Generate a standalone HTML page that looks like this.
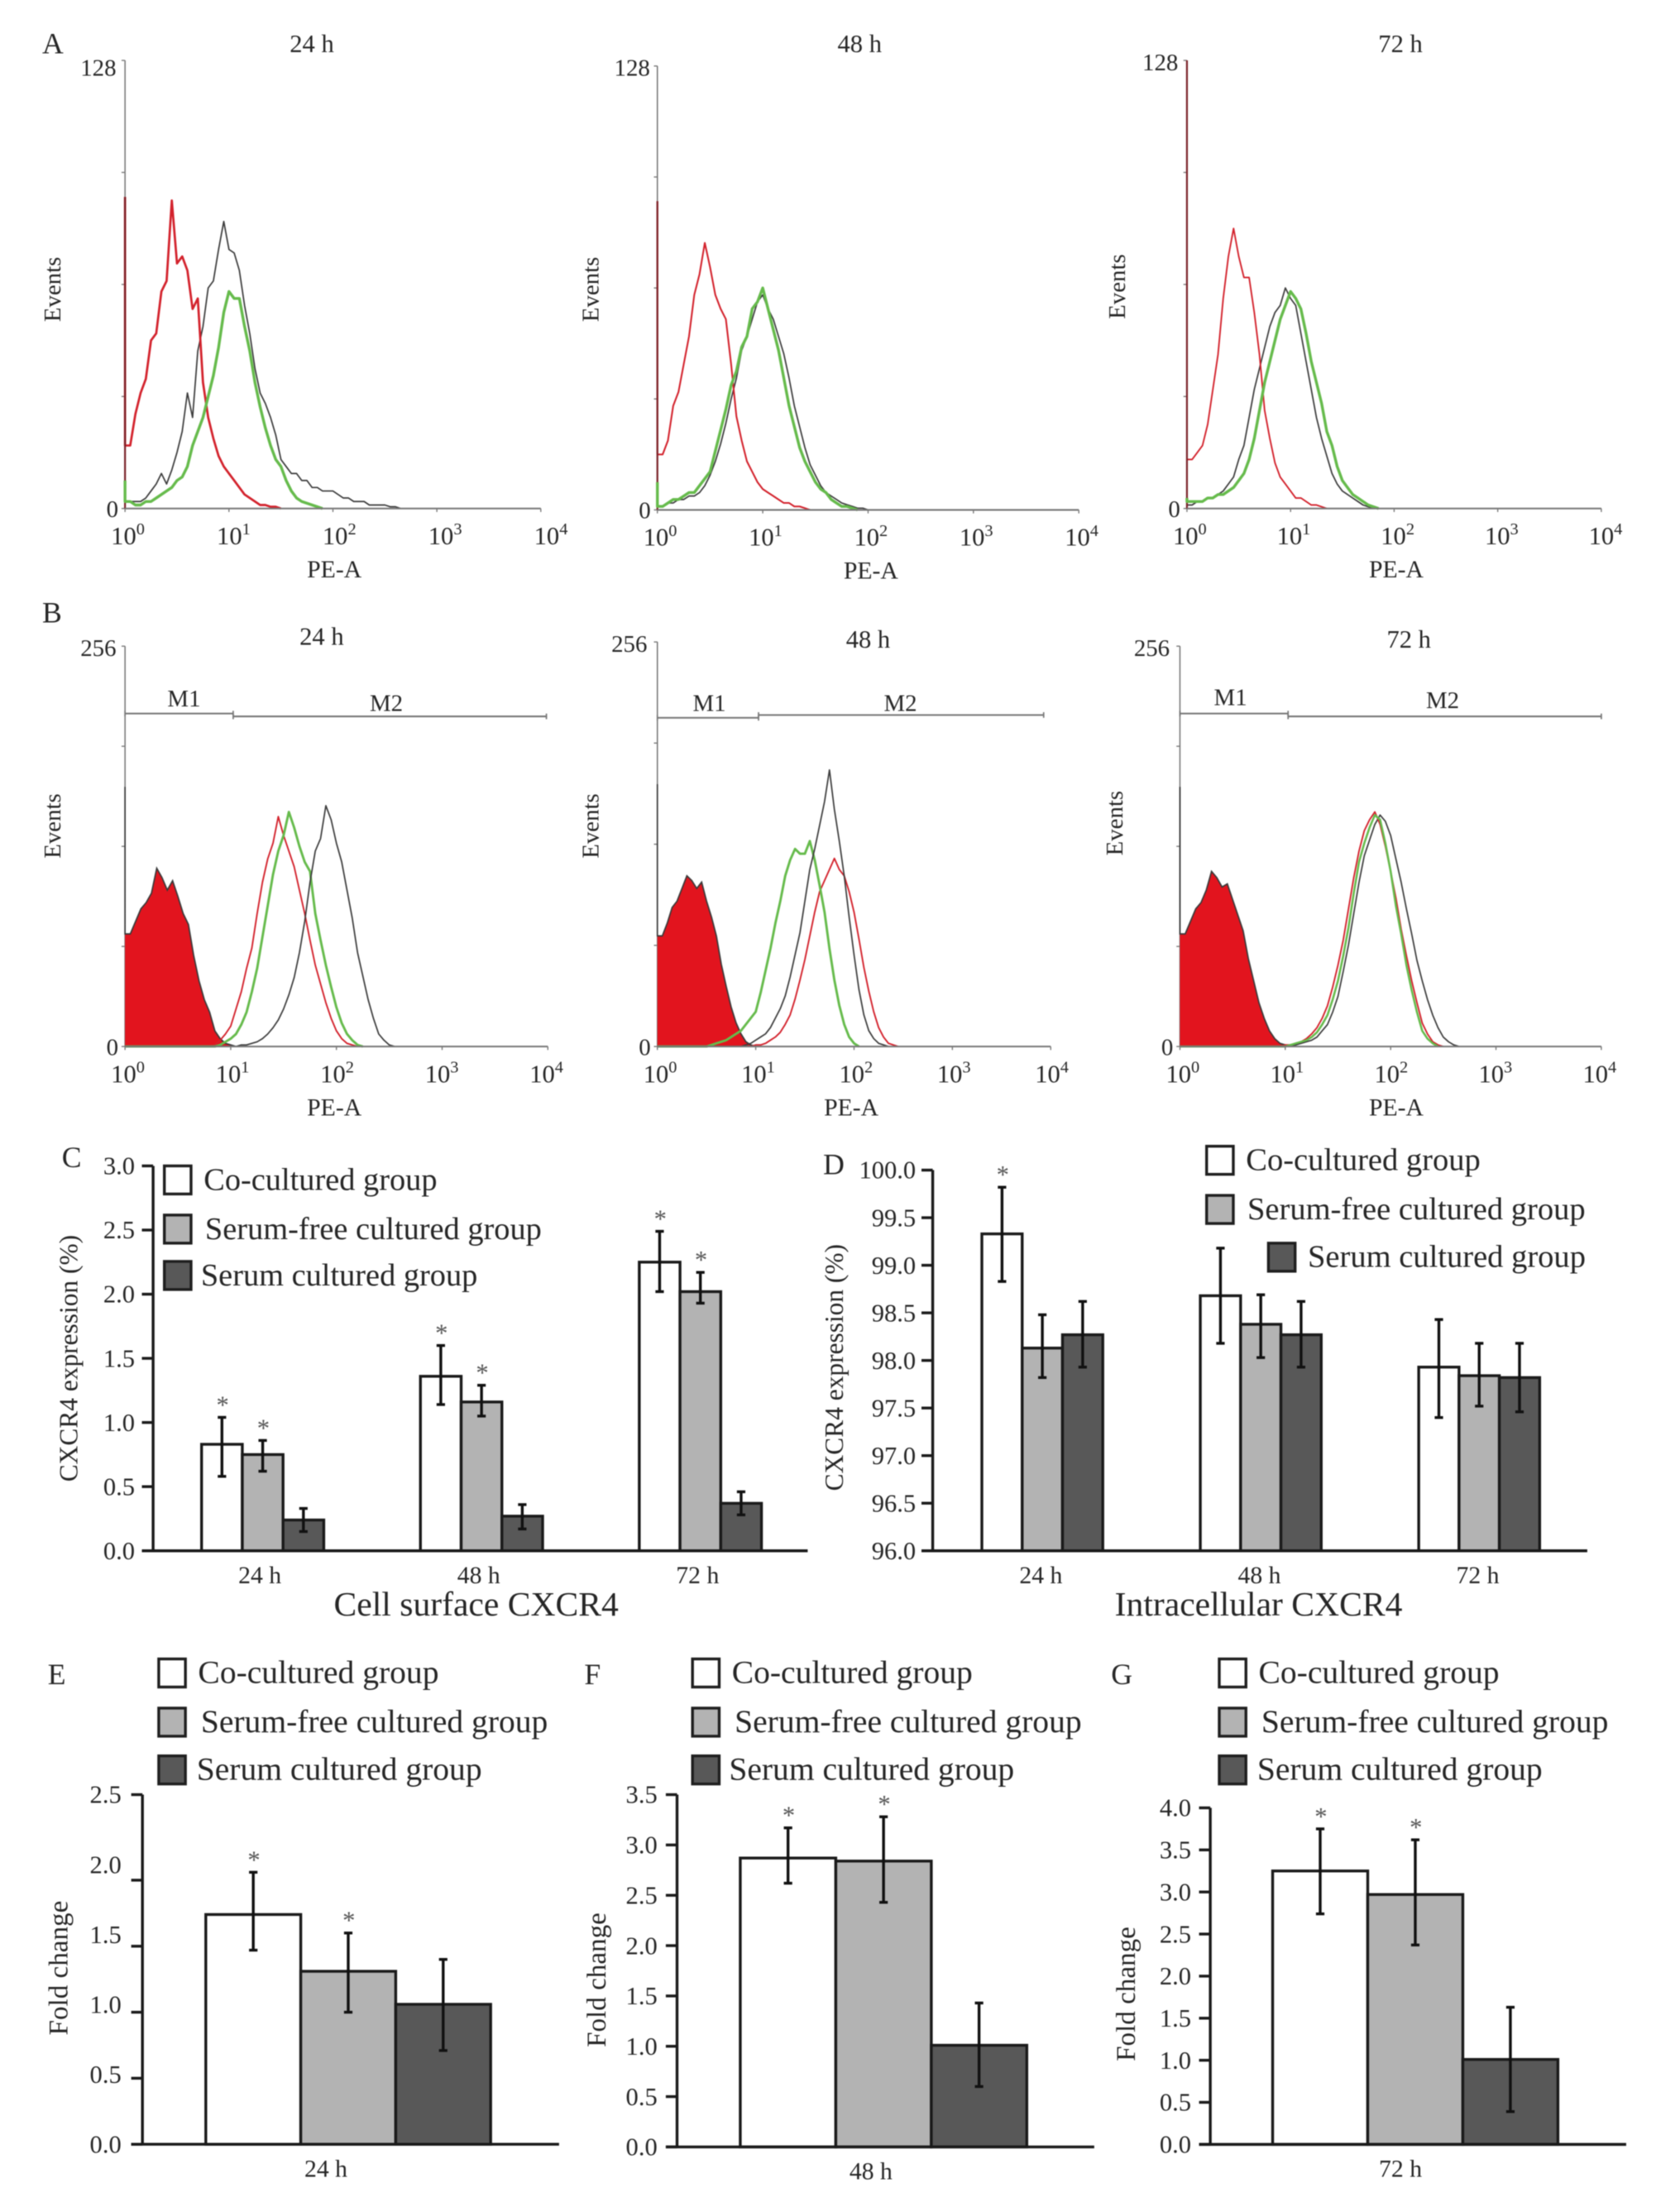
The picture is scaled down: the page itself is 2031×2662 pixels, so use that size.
<!DOCTYPE html>
<html lang="en">
<head>
<meta charset="utf-8">
<title>CXCR4 flow cytometry and expression panels</title>
<style>
html,body{margin:0;padding:0;background:#fff;}
body{width:2031px;height:2662px;overflow:hidden;}
svg{display:block;filter:blur(0.5px);}
text{font-family:"Liberation Serif","DejaVu Serif",serif;fill:#262626;}
</style>
</head>
<body>
<svg id="figure" xmlns="http://www.w3.org/2000/svg" width="2031" height="2662" viewBox="0 0 1196 1567.6"></svg>
<script>
/* ---------- histogram data: events per log-PE bin (first value = spike on the axis) ---------- */
const logBinStep = 0.05;
const decadeLabels = ['0', '1', '2', '3', '4'];

const a1Red = [89,18,27,33,37,48,50,62,65,88,70,72,68,57,60,36,26,20,15,12,10,8,6,4,3,2,1,1,0.5,0.5,0];
const a1Black = [1,2,2,2,3,5,7,10,7,11,16,22,33,26,45,52,63,65,74,82,74,73,68,58,50,40,33,30,26,21,14,12,10,10,8,8,6,6,5,5,5,4,3,3,2,2,2,1,1,1,1,0.5,0.5,0];
const a1Green = [8,2,1,1,2,2,3,4,5,6,8,9,12,18,22,26,32,38,46,56,62,60,60,52,45,36,29,23,18,14,12,8,5,3,2,1.5,1,0.5,0];

const a2Red = [89,16,20,30,34,42,50,62,68,77,70,62,58,55,42,27,20,14,11,8,6,5,4,3,2,2,1,1,0.5,0];
const a2Black = [3,1,2,2,3,3,4,4,5,7,10,14,19,25,32,38,46,50,55,60,62,58,55,50,45,38,30,24,18,13,10,7,5,4,3,2,1.5,1,0.5,0.5,0];
const a2Green = [8,1,2,3,3,4,5,5,7,9,11,17,23,29,36,40,47,50,58,60,64,58,52,46,38,30,24,18,14,11,8,6,5,3,2,1,1,0.5,0];

const a3Red = [128,14,16,18,24,34,44,60,72,80,72,66,66,56,44,28,20,13,9,7,5,3,3,2,1,1,0.5,0];
const a3Black = [3,1,2,2,3,3,4,5,7,9,14,18,26,34,40,46,52,56,58,63,60,58,50,42,34,26,20,15,10,7,5,4,3,2,1,0.5,0];
const a3Green = [3,2,2,2,3,3,4,4,5,6,8,10,14,20,28,36,42,48,54,58,62,60,57,50,42,36,30,22,18,12,8,6,4,3,2,1,0.5,0];

const b1Fill = [166,72,80,88,92,98,114,108,100,106,96,85,78,58,42,30,22,10,5,2,1,0];
const b1Red = [0,0,0,0,0,0,0,0,0,0,0,0,0,0,0,0,0,1,4,8,13,24,35,50,63,85,105,120,130,147,135,125,115,100,85,68,52,40,28,18,10,5,2,1,0];
const b1Green = [0,0,0,0,0,0,0,0,0,0,0,0,0,0,0,0,0,0,1,3,5,8,14,22,35,50,70,90,110,125,135,150,140,128,118,112,85,68,52,38,25,15,8,4,1,0];
const b1Black = [0,0,0,0,0,0,0,0,0,0,0,0,0,0,0,0,0,0,0,0,0,0,1,1,2,3,5,8,12,17,24,33,44,60,80,105,125,133,154,145,130,118,100,82,60,45,30,18,8,4,1,0];

const b2Fill = [166,70,78,88,92,100,108,105,100,104,92,82,70,52,38,25,15,8,3,1,0];
const b2Red = [0,0,0,0,0,0,0,0,0,0,0,0,0,0,0,0,0,0,0,0,1,1,2,4,6,9,14,20,30,42,55,70,85,98,105,112,119,112,108,98,85,68,50,35,22,12,6,2,1,0];
const b2Green = [0,0,0,0,0,0,0,0,0,0,0,1,2,3,4,6,8,10,14,18,22,34,48,62,78,92,108,118,125,122,122,130,118,102,85,62,42,26,14,6,2,0];
const b2Black = [0,0,0,0,0,0,0,0,0,0,0,0,0,0,0,0,0,0,1,2,4,6,8,12,18,24,32,44,58,72,92,112,125,140,155,175,150,130,108,82,58,36,20,10,5,2,1,0];

const b3Fill = [166,72,80,88,92,100,112,108,102,104,94,84,74,56,42,28,18,10,5,2,1,0];
const b3Red = [0,0,0,0,0,0,0,0,0,0,0,0,0,0,0,0,0,0,0,0,1,1,2,3,5,8,12,18,26,38,52,68,88,108,125,138,145,150,142,128,112,95,75,58,42,28,15,8,3,1,0];
const b3Green = [0,0,0,0,0,0,0,0,0,0,0,0,0,0,0,0,0,0,0,0,0,1,2,3,4,6,9,14,20,30,42,58,76,98,118,130,140,148,145,130,112,90,72,52,36,22,10,5,2,0];
const b3Black = [0,0,0,0,0,0,0,0,0,0,0,0,0,0,0,0,0,0,0,0,0,0,1,2,3,4,6,10,14,22,32,48,65,85,105,122,132,142,148,144,135,120,105,88,72,55,42,30,20,12,6,3,1,0];

/* ---------- bar chart data ---------- */
const timeCategories = ['24 h', '48 h', '72 h'];

const cTickLabels = ['0.0','0.5','1.0','1.5','2.0','2.5','3.0'];
const cCo = [0.83, 1.36, 2.25];
const cFree = [0.75, 1.16, 2.02];
const cSerum = [0.24, 0.27, 0.37];
const cCoHigh = [1.04, 1.60, 2.49];
const cCoLow = [0.58, 1.14, 2.02];
const cFreeHigh = [0.86, 1.29, 2.17];
const cFreeLow = [0.62, 1.05, 1.93];
const cSerumHigh = [0.33, 0.36, 0.46];
const cSerumLow = [0.15, 0.17, 0.28];

const dTickLabels = ['96.0','96.5','97.0','97.5','98.0','98.5','99.0','99.5','100.0'];
const dCo = [99.33, 98.68, 97.93];
const dFree = [98.13, 98.38, 97.84];
const dSerum = [98.27, 98.27, 97.82];
const dCoHigh = [99.82, 99.18, 98.43];
const dCoLow = [98.83, 98.18, 97.40];
const dFreeHigh = [98.48, 98.69, 98.18];
const dFreeLow = [97.82, 98.03, 97.52];
const dSerumHigh = [98.62, 98.62, 98.18];
const dSerumLow = [97.93, 97.93, 97.46];

const eTickLabels = ['0.0','0.5','1.0','1.5','2.0','2.5'];
const eValues = [1.74, 1.31, 1.06];
const eHigh = [2.06, 1.60, 1.40];
const eLow = [1.47, 1.00, 0.71];

const fTickLabels = ['0.0','0.5','1.0','1.5','2.0','2.5','3.0','3.5'];
const fValues = [2.87, 2.84, 1.01];
const fHigh = [3.17, 3.28, 1.43];
const fLow = [2.62, 2.43, 0.60];

const gTickLabels = ['0.0','0.5','1.0','1.5','2.0','2.5','3.0','3.5','4.0'];
const gValues = [3.25, 2.97, 1.01];
const gHigh = [3.75, 3.62, 1.63];
const gLow = [2.74, 2.37, 0.39];

const legendLabels = ['Co-cultured group', 'Serum-free cultured group', 'Serum cultured group'];

/* ---------- drawing helpers ---------- */
const SVGNS = 'http://www.w3.org/2000/svg';
const figure = document.getElementById('figure');
const seriesFill = ['#ffffff', '#b3b3b3', '#585858'];
const seriesKey = ['co-cultured', 'serum-free', 'serum'];

function add(tag, name, attrs, parent) {
  const el = document.createElementNS(SVGNS, tag);
  
  
  for (const k in attrs) el.setAttribute(k, attrs[k]);
  (parent || figure).appendChild(el);
  return el;
}
function label(name, str, x, y, size, anchor, parent, rotate) {
  const attrs = {x: x, y: y, 'font-size': size, 'text-anchor': anchor || 'middle'};
  if (rotate) attrs.transform = 'rotate(-90 ' + x + ' ' + y + ')';
  const t = add('text', name, attrs, parent);
  t.textContent = str;
  return t;
}

/* ---------- flow histograms ---------- */
function drawHistogram(p) {
  const g = add('g', 'histogram-' + p.id, {}, figure);
  const xScale = function (logValue) { return p.x0 + logValue * (p.x1 - p.x0) / 4; };
  const yScale = function (count) { return p.base - count * (p.base - p.top) / p.yMax; };
  const binX = function (i) { return xScale(i * logBinStep); };
  /* the first bin is a vertical spike standing on the y-axis */
  const tracePoints = function (values) {
    const pts = [binX(0) + ',' + yScale(values[0]), binX(0) + ',' + yScale(values[1])];
    values.forEach(function (v, i) {
      if (i > 0) pts.push(binX(i) + ',' + yScale(v));
    });
    return pts;
  };

  /* axes */
  add('line', 'y-axis', {x1: p.x0, x2: p.x0, y1: p.top, y2: p.base, stroke: '#777', 'stroke-width': 0.9}, g);
  [0, 0.25, 0.5, 0.75, 1].forEach(function (f) {
    const y = p.base - f * (p.base - p.top);
    add('line', 'y-tick', {x1: p.x0 - 2.5, x2: p.x0, y1: y, y2: y, stroke: '#777', 'stroke-width': 0.8}, g);
  });

  if (p.fill) {
    const pts = [binX(0) + ',' + yScale(0), binX(0) + ',' + yScale(p.fill[1])];
    p.fill.forEach(function (v, i) {
      if (i > 0) pts.push(binX(i) + ',' + yScale(v));
    });
    pts.push(binX(p.fill.length - 1) + ',' + yScale(0));
    add('polygon', 'filled-isotype-histogram', {points: pts.join(' '), fill: '#e2141e', stroke: 'none'}, g);
    add('polyline', 'isotype-outline', {points: tracePoints(p.fill).join(' '), fill: 'none', stroke: '#3a3a3a', 'stroke-width': 1}, g);
  }
  p.curves.forEach(function (c) {
    add('polyline', 'curve-' + c.name, {points: tracePoints(c.values).join(' '), fill: 'none', stroke: c.color, 'stroke-width': c.width, 'stroke-linejoin': 'round'}, g);
    if (c.spikeColor) {
      add('line', 'axis-spike-' + c.name, {x1: p.x0, x2: p.x0, y1: yScale(c.values[0]), y2: p.base, stroke: c.spikeColor, 'stroke-width': 1.3}, g);
    }
  });

  add('line', 'x-axis', {x1: p.x0, x2: p.x1, y1: p.base, y2: p.base, stroke: '#777', 'stroke-width': 1.2}, g);
  decadeLabels.forEach(function (d, i) {
    const x = xScale(Number(d));
    add('line', 'x-tick', {x1: x, x2: x, y1: p.base, y2: p.base + 2.5, stroke: '#777', 'stroke-width': 0.8}, g);
    const t = label('x-tick-label', '10', p.x0 + 2 + i * p.labelStep, p.base + 25.5, 18, 'middle', g);
    const s = add('tspan', 'x-tick-exponent', {dy: -7, 'font-size': 12}, t);
    s.textContent = d;
  });

  /* text */
  label('panel-time-title', p.title, p.titleX, p.titleY, 18, 'middle', g);
  label('y-max-label', String(p.yMax), p.maxX, p.maxY, 17, 'middle', g);
  label('y-zero-label', '0', p.x0 - 9, p.base + 6, 17, 'middle', g);
  label('y-axis-title', 'Events', p.evX, p.evY, 17, 'middle', g, true);
  label('x-axis-title', 'PE-A', p.peX, p.base + 49, 17.5, 'middle', g);

  if (p.gates) {
    p.gates.forEach(function (m) {
      add('line', 'gate-' + m.name, {x1: m.x1, x2: m.x2, y1: m.y, y2: m.y, stroke: '#777', 'stroke-width': 1.2}, g);
      add('line', 'gate-end', {x1: m.x1, x2: m.x1, y1: m.y - 2, y2: m.y + 2, stroke: '#777', 'stroke-width': 1}, g);
      add('line', 'gate-end', {x1: m.x2, x2: m.x2, y1: m.y - 2, y2: m.y + 2, stroke: '#777', 'stroke-width': 1}, g);
      label('gate-label-' + m.name, m.name, m.tx, m.ty, 17, 'middle', g);
    });
  }
}

const RED = '#d3222c', GREEN = '#66bb4c', BLACK = '#3c3c3c', DARKRED = '#7a2228';

drawHistogram({id: 'a-24h', x0: 89, x1: 385, top: 43, base: 362, yMax: 128, labelStep: 75.3, title: '24 h', titleX: 222, titleY: 37,
  maxX: 70, maxY: 54, evX: 43, evY: 206, peX: 238,
  curves: [{name: 'black', values: a1Black, color: BLACK, width: 1}, {name: 'red', values: a1Red, color: RED, width: 1.6, spikeColor: DARKRED}, {name: 'green', values: a1Green, color: GREEN, width: 2}]});
drawHistogram({id: 'a-48h', x0: 468, x1: 768, top: 47, base: 363, yMax: 128, labelStep: 75, title: '48 h', titleX: 612, titleY: 37,
  maxX: 450, maxY: 54, evX: 426, evY: 206, peX: 620,
  curves: [{name: 'black', values: a2Black, color: BLACK, width: 1}, {name: 'red', values: a2Red, color: RED, width: 1.2, spikeColor: DARKRED}, {name: 'green', values: a2Green, color: GREEN, width: 2}]});
drawHistogram({id: 'a-72h', x0: 845, x1: 1140, top: 43, base: 362, yMax: 128, labelStep: 74, title: '72 h', titleX: 997, titleY: 37,
  maxX: 826, maxY: 50, evX: 801, evY: 204, peX: 994,
  curves: [{name: 'black', values: a3Black, color: BLACK, width: 1}, {name: 'red', values: a3Red, color: RED, width: 1.1, spikeColor: DARKRED}, {name: 'green', values: a3Green, color: GREEN, width: 2}]});

drawHistogram({id: 'b-24h', x0: 89, x1: 390, top: 460, base: 745, yMax: 256, labelStep: 74.5, title: '24 h', titleX: 229, titleY: 459,
  maxX: 70, maxY: 467, evX: 43, evY: 588, peX: 238, fill: b1Fill,
  gates: [{name: 'M1', x1: 89, x2: 166, y: 508, tx: 131, ty: 503}, {name: 'M2', x1: 166, x2: 389, y: 510, tx: 275, ty: 506}],
  curves: [{name: 'red', values: b1Red, color: RED, width: 1.1}, {name: 'green', values: b1Green, color: GREEN, width: 1.7}, {name: 'black', values: b1Black, color: BLACK, width: 1}]});
drawHistogram({id: 'b-48h', x0: 468, x1: 748, top: 457, base: 745, yMax: 256, labelStep: 69.7, title: '48 h', titleX: 618, titleY: 461,
  maxX: 448, maxY: 464, evX: 426, evY: 588, peX: 606, fill: b2Fill,
  gates: [{name: 'M1', x1: 468, x2: 540, y: 511, tx: 505, ty: 506}, {name: 'M2', x1: 540, x2: 743, y: 509, tx: 641, ty: 506}],
  curves: [{name: 'red', values: b2Red, color: RED, width: 1.1}, {name: 'green', values: b2Green, color: GREEN, width: 1.7}, {name: 'black', values: b2Black, color: BLACK, width: 1}]});
drawHistogram({id: 'b-72h', x0: 840, x1: 1140, top: 460, base: 745, yMax: 256, labelStep: 74.2, title: '72 h', titleX: 1003, titleY: 461,
  maxX: 820, maxY: 467, evX: 799, evY: 586, peX: 994, fill: b3Fill,
  gates: [{name: 'M1', x1: 840, x2: 917, y: 508, tx: 876, ty: 502}, {name: 'M2', x1: 917, x2: 1140, y: 510, tx: 1027, ty: 504}],
  curves: [{name: 'black', values: b3Black, color: BLACK, width: 1}, {name: 'red', values: b3Red, color: RED, width: 1.1}, {name: 'green', values: b3Green, color: GREEN, width: 1.5}]});

/* ---------- legends ---------- */
function drawLegend(id, size, rows) {
  const g = add('g', 'legend-' + id, {}, figure);
  rows.forEach(function (r, i) {
    const e = add('g', 'legend-entry-' + seriesKey[i], {}, g);
    add('rect', 'legend-swatch', {x: r.bx, y: r.cy - 10, width: 19, height: 20, fill: seriesFill[i], stroke: '#1f1f1f', 'stroke-width': 2}, e);
    label('legend-label', legendLabels[i], r.tx, r.cy + 7, size, 'start', e);
  });
}
drawLegend('c', 22.6, [{bx: 117, tx: 145, cy: 840}, {bx: 117, tx: 146, cy: 875}, {bx: 117, tx: 143, cy: 908}]);
drawLegend('d', 22.7, [{bx: 859, tx: 887, cy: 826}, {bx: 859, tx: 888, cy: 861}, {bx: 903, tx: 931, cy: 895}]);
drawLegend('e', 23.3, [{bx: 113, tx: 141, cy: 1191}, {bx: 113, tx: 143, cy: 1226}, {bx: 113, tx: 140, cy: 1260}]);
drawLegend('f', 23.3, [{bx: 493, tx: 521, cy: 1191}, {bx: 493, tx: 523, cy: 1226}, {bx: 493, tx: 519, cy: 1260}]);
drawLegend('g', 23.3, [{bx: 868, tx: 896, cy: 1191}, {bx: 868, tx: 898, cy: 1226}, {bx: 868, tx: 895, cy: 1260}]);

/* ---------- bar charts ---------- */
function drawBars(p) {
  const g = add('g', 'bar-chart-' + p.id, {}, figure);
  const yMin = Number(p.ticks[0]);
  const yScale = function (v) { return p.base - (v - yMin) * p.pxPerUnit; };
  const bandX = function (cat, s) { return p.firstX + cat * p.groupStep + s * p.barW; };

  p.series.forEach(function (se, s) {
    se.values.forEach(function (v, c) {
      const x = p.seriesAsCats ? bandX(0, c) : bandX(c, s);
      const fillIdx = p.seriesAsCats ? c : s;
      add('rect', 'bar-' + seriesKey[fillIdx] + '-' + p.cats[p.seriesAsCats ? 0 : c].replace(' ', ''), {
        x: x, y: yScale(v), width: p.barW, height: p.base - yScale(v),
        fill: seriesFill[fillIdx], stroke: '#1a1a1a', 'stroke-width': 2
      }, g);
    });
  });
  p.series.forEach(function (se, s) {
    se.values.forEach(function (v, c) {
      const cx = (p.seriesAsCats ? bandX(0, c) : bandX(c, s)) + p.barW / 2;
      const hi = yScale(se.high[c]), lo = yScale(se.low[c]);
      add('line', 'error-bar', {x1: cx, x2: cx, y1: hi, y2: lo, stroke: '#111', 'stroke-width': 2}, g);
      add('line', 'error-cap-top', {x1: cx - 3, x2: cx + 3, y1: hi, y2: hi, stroke: '#111', 'stroke-width': 2}, g);
      add('line', 'error-cap-bottom', {x1: cx - 3, x2: cx + 3, y1: lo, y2: lo, stroke: '#111', 'stroke-width': 2}, g);
      if (se.star[c]) {
        const st = label('significance-star', '*', cx + 0.5, hi - 3, 18, 'middle', g);
        st.style.fill = '#555';
      }
    });
  });

  /* axes */
  add('line', 'y-axis', {x1: p.axisX, x2: p.axisX, y1: p.top, y2: p.base, stroke: '#1a1a1a', 'stroke-width': 2}, g);
  add('line', 'x-axis', {x1: p.axisX - 8, x2: p.right, y1: p.base, y2: p.base, stroke: '#1a1a1a', 'stroke-width': 2}, g);
  const n = p.ticks.length - 1;
  p.ticks.forEach(function (t, i) {
    const labelY = p.base - i * (p.base - p.top) / n;
    const tickY = p.skewTop ? (i === n ? p.top : yScale(Number(t))) : labelY;
    add('line', 'y-tick', {x1: p.axisX - 8, x2: p.axisX, y1: tickY, y2: tickY, stroke: '#1a1a1a', 'stroke-width': 2}, g);
    label('y-tick-label', t, p.axisX - p.labelGap, labelY + 6, 18, 'end', g);
  });
  p.cats.forEach(function (c, i) {
    const cx = p.seriesAsCats ? p.catX : p.firstX + i * p.groupStep + 1.5 * p.barW + p.catShift;
    label('x-category-label', c, cx, p.base + 23, 17.5, 'middle', g);
  });
  label('y-axis-title', p.yTitle, p.yTitleX, p.yTitleY, p.yTitleSize, 'middle', g, true);
  if (p.xTitle) label('x-axis-title', p.xTitle, p.xTitleX, p.base + 46, 24.5, 'middle', g);
}

drawBars({id: 'c', axisX: 109, right: 575, top: 830, base: 1104, pxPerUnit: 274 / 3, firstX: 143.5, groupStep: 155.8, barW: 29, catShift: -2, labelGap: 13,
  ticks: cTickLabels, cats: timeCategories, yTitle: 'CXCR4 expression (%)', yTitleX: 55, yTitleY: 967, yTitleSize: 18.5,
  xTitle: 'Cell surface CXCR4', xTitleX: 339,
  series: [
    {values: cCo, high: cCoHigh, low: cCoLow, star: [true, true, true]},
    {values: cFree, high: cFreeHigh, low: cFreeLow, star: [true, true, true]},
    {values: cSerum, high: cSerumHigh, low: cSerumLow, star: [false, false, false]}
  ]});
drawBars({id: 'd', axisX: 664, right: 1130, top: 833, base: 1104, pxPerUnit: 271 / 4, firstX: 699, groupStep: 155.5, barW: 28.7, catShift: -1, labelGap: 12,
  ticks: dTickLabels, cats: timeCategories, yTitle: 'CXCR4 expression (%)', yTitleX: 600, yTitleY: 973.5, yTitleSize: 18.5,
  xTitle: 'Intracellular CXCR4', xTitleX: 896,
  series: [
    {values: dCo, high: dCoHigh, low: dCoLow, star: [true, false, false]},
    {values: dFree, high: dFreeHigh, low: dFreeLow, star: [false, false, false]},
    {values: dSerum, high: dSerumHigh, low: dSerumLow, star: [false, false, false]}
  ]});
drawBars({id: 'e', axisX: 101.4, right: 398, top: 1277.6, base: 1526.5, pxPerUnit: 94, firstX: 146.5, groupStep: 0, barW: 67.6, seriesAsCats: true, catX: 232, skewTop: true, labelGap: 15,
  ticks: eTickLabels, cats: ['24 h'], yTitle: 'Fold change', yTitleX: 48, yTitleY: 1401, yTitleSize: 19.5,
  series: [{values: eValues, high: eHigh, low: eLow, star: [true, true, false]}]});
drawBars({id: 'f', axisX: 482, right: 779, top: 1277.6, base: 1528.4, pxPerUnit: 250.8 / 3.5, firstX: 527, groupStep: 0, barW: 68, seriesAsCats: true, catX: 620, labelGap: 14,
  ticks: fTickLabels, cats: ['48 h'], yTitle: 'Fold change', yTitleX: 431, yTitleY: 1409.5, yTitleSize: 19.5,
  series: [{values: fValues, high: fHigh, low: fLow, star: [true, true, false]}]});
drawBars({id: 'g', axisX: 861.6, right: 1157.7, top: 1287, base: 1526.6, pxPerUnit: 239.6 / 4, firstX: 906, groupStep: 0, barW: 67.7, seriesAsCats: true, catX: 997, labelGap: 13.6,
  ticks: gTickLabels, cats: ['72 h'], yTitle: 'Fold change', yTitleX: 808, yTitleY: 1419.5, yTitleSize: 19.5,
  series: [{values: gValues, high: gHigh, low: gLow, star: [true, true, false]}]});

/* ---------- panel letters ---------- */
label('panel-letter-a', 'A', 30, 38, 21, 'start');
label('panel-letter-b', 'B', 30, 443, 21, 'start');
label('panel-letter-c', 'C', 44, 831, 21, 'start');
label('panel-letter-d', 'D', 586, 836, 21, 'start');
label('panel-letter-e', 'E', 34, 1199, 21, 'start');
label('panel-letter-f', 'F', 416, 1199, 21, 'start');
label('panel-letter-g', 'G', 791, 1199, 21, 'start');
</script>
</body>
</html>
